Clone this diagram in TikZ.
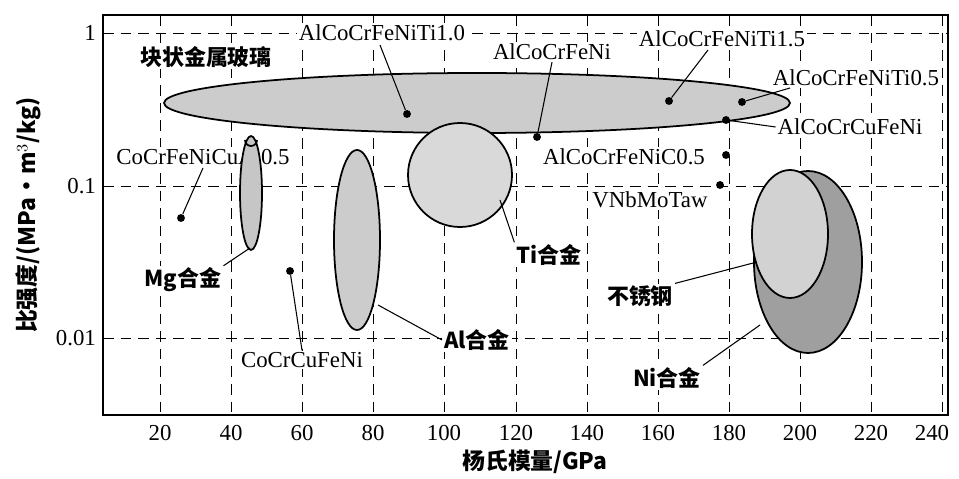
\documentclass[tikz,border=0pt]{standalone}
\usepackage{fontspec}
\setmainfont{Liberation Serif}
\newfontfamily\cjk{Noto Sans CJK SC}
\begin{document}
\begin{tikzpicture}[x=0.02cm,y=-0.02cm,
  grid/.style={dashed,dash pattern=on 6pt off 4pt,line width=0.5pt},
  blob/.style={draw,line width=1pt},
  lead/.style={line width=0.6pt},
  dotp/.style={circle,fill,inner sep=0pt,minimum size=4.5pt},
  lab/.style={font=\fontsize{13}{15}\selectfont,inner sep=1pt,fill=white},
  tlab/.style={font=\fontsize{13}{15}\selectfont,inner sep=1pt},
  clab/.style={font=\cjk\bfseries\fontsize{12.5}{14}\selectfont,inner sep=1pt,fill=white}]
\useasboundingbox (0,0) rectangle (959,479);
% grid
\foreach \x in {160,231,302,373,444,516,587,658,729,800,871,942}
  \draw[grid] (\x,15) -- (\x,415);
\foreach \y in {33,186,338}
  \draw[grid] (103,\y) -- (948,\y);
\draw[line width=0.8pt] (103,15) rectangle (948,415);
% ticks labels
\foreach \x/\t in {160/20,231/40,302/60,373/80,444/100,516/120,587/140,658/160,729/180,800/200,871/220,932/240}
  \node[tlab] at (\x,433) {\t};
\node[tlab,anchor=east] at (98,33) {1};
\node[tlab,anchor=east] at (98,186) {0.1};
\node[tlab,anchor=east] at (98,338) {0.01};
\node[font=\cjk\bfseries\fontsize{13}{15}\selectfont] (xl) at (535,462) {杨氏模量/GPa};
\node[font=\cjk\bfseries\fontsize{13}{15}\selectfont,rotate=90] (yl) at (28,215) {比强度/(MPa{\textbullet}m$^3$/kg)};
% label drawn under the Mg ellipse
\node[lab] (cual) at (203,157) {CoCrFeNiCuAl0.5};
% shapes
\filldraw[blob,fill=gray!40] (477,103) ellipse (313 and 30);
\filldraw[blob,fill=gray!30] (460,175) circle (52);
\filldraw[blob,fill=gray!45] (251,193) ellipse (11 and 57);
\draw[line width=1pt] (245,140) arc (180:0:6);
\filldraw[blob,fill=gray!40] (357,240) ellipse (23 and 90);
\filldraw[blob,fill=gray!75] (808,262) ellipse (54 and 91);
\filldraw[blob,fill=gray!35] (790,234) ellipse (38 and 64);
% dots
\node[dotp] (d1) at (407,114) {};
\node[dotp] (d2) at (537,137) {};
\node[dotp] (d3) at (669,101) {};
\node[dotp] (d4) at (742,102) {};
\node[dotp] (d5) at (726,120) {};
\node[dotp] (d6) at (726,155) {};
\node[dotp] (d7) at (720,185) {};
\node[dotp] (d8) at (181,218) {};
\node[dotp] (d9) at (290,271) {};
% labels
\node[clab] (bmg) at (206,57) {块状金属玻璃};
\node[lab] (t10) at (382,33) {AlCoCrFeNiTi1.0};
\node[lab] (afn) at (552,52) {AlCoCrFeNi};
\node[lab] (t15) at (722,39) {AlCoCrFeNiTi1.5};
\node[lab] (t05) at (856,78) {AlCoCrFeNiTi0.5};
\node[lab] (cu) at (850,127) {AlCoCrCuFeNi};
\node[lab] (c05) at (624,157) {AlCoCrFeNiC0.5};
\node[lab] (vn) at (650,200) {VNbMoTaw};
\node[clab] (mg) at (183,280) {Mg合金};
\node[lab] (cccf) at (302,360) {CoCrCuFeNi};
\node[clab] (al) at (477,340) {Al合金};
\node[clab] (ti) at (549,255) {Ti合金};
\node[clab] (ss) at (640,296) {不锈钢};
\node[clab] (ni) at (667,378) {Ni合金};
% leaders
\coordinate (mge) at (250,248);
\coordinate (ale) at (378,305);
\coordinate (tie) at (500,200);
\coordinate (sse) at (757,262);
\coordinate (nie) at (760,325);
\draw[lead] (d1) -- (380,45);
\draw[lead] (d2) -- (afn.south);
\draw[lead] (d3) -- (708,50);
\draw[lead] (d4) -- (790,88);
\draw[lead] (d5) -- (cu.west);
\draw[lead] (d8) -- (203,168);
\draw[lead] (mg.north east) -- (mge);
\draw[lead] (d9) -- (cccf.north);
\draw[lead] (al.west) -- (ale);
\draw[lead] (ti.north west) -- (tie);
\draw[lead] (ss.north east) -- (sse);
\draw[lead] (ni.north east) -- (nie);
\end{tikzpicture}
\end{document}
